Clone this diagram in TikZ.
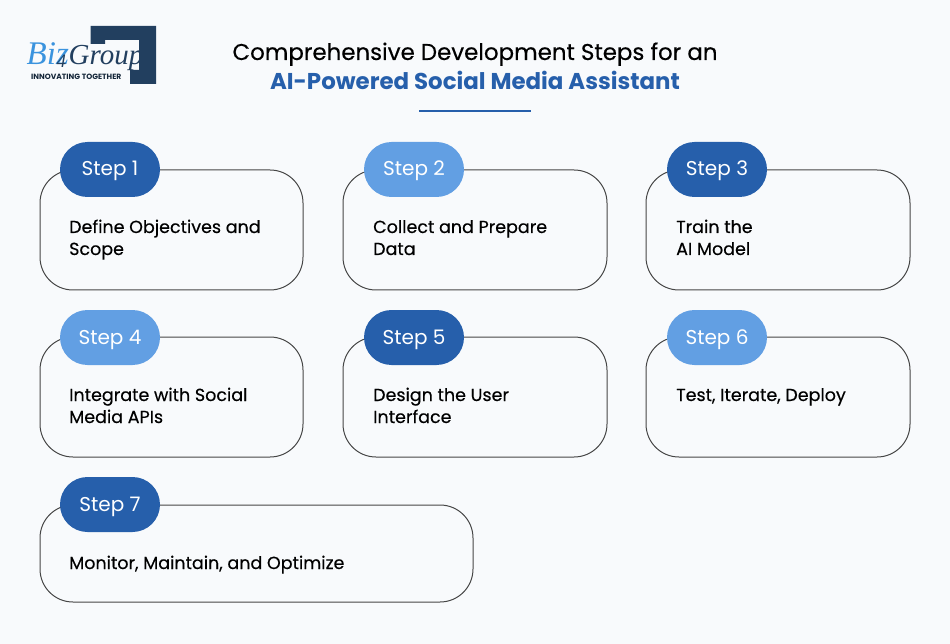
\documentclass[tikz,border=0pt]{standalone}
\usepackage{fontspec}
\setmainfont{Poppins}
\newfontfamily\medfont{Poppins}[FakeBold=0.35]
\newfontfamily\logofont{Liberation Serif}
\definecolor{bgc}{HTML}{F8FAFC}
\definecolor{darkb}{HTML}{265FAB}
\definecolor{lightb}{HTML}{629FE3}
\definecolor{navy}{HTML}{223F5F}
\definecolor{bizb}{HTML}{3A93DE}
\definecolor{edge}{HTML}{464646}
\tikzset{
 x=1pt,y=-1pt,
 card/.style={draw=edge,line width=1pt,fill=bgc,rounded corners=33pt},
 pill/.style={rounded rectangle,minimum width=100pt,minimum height=55pt,inner sep=0pt,text=white,text height=13pt,text depth=0pt,font=\fontsize{20}{24}\selectfont},
 pilldark/.style={pill,fill=darkb},
 pilllight/.style={pill,fill=lightb},
 body/.style={anchor=base west,inner sep=0pt,align=left,text=black,font=\medfont\fontsize{17.5}{22}\selectfont},
}
\usetikzlibrary{shapes.misc}
\begin{document}
\begin{tikzpicture}
\useasboundingbox (0,0) rectangle (950,644);
\fill[bgc] (0,0) rectangle (950,644);
% logo
\fill[navy] (90.7,26) -- (156,26) -- (156,84) -- (130,84) -- (130,70) -- (139,70) -- (139,40) -- (105,40) -- (105,44) -- (90.7,44) -- cycle;
\node[anchor=base west,inner sep=0pt,text=bizb] (biz) at (26.5,65) {\logofont\itshape\fontsize{33}{33}\selectfont Biz};
\node[anchor=base west,inner sep=0pt,text=navy] (four) at (56.5,68) {\logofont\itshape\fontsize{19}{19}\selectfont 4};
\node[anchor=base west,inner sep=0pt,text=navy] (grp) at (68.5,65) {\logofont\itshape\fontsize{29}{29}\selectfont Group};
\node[anchor=base west,inner sep=0pt,text=navy!60!black] (tag) at (31,80) {\fontsize{7.6}{8}\selectfont\bfseries INNOVATING TOGETHER};
% title
\node[text=black,inner sep=0pt,anchor=base] (t1) at (475,60) {\medfont\fontsize{22.9}{26}\selectfont Comprehensive Development Steps for an};
\node[text=darkb,inner sep=0pt,anchor=base] (t2) at (475,89.5) {\bfseries\fontsize{22.9}{26}\selectfont AI-Powered Social Media Assistant};
\coordinate (ula) at (419,111);
\coordinate (ulb) at (531,111);
\draw[darkb,line width=2pt] (ula) -- (ulb);
% cards
\draw[card] (40,170) rectangle (303,290);
\draw[card] (343,170) rectangle (607,290);
\draw[card] (646,170) rectangle (910,290);
\draw[card] (40,337) rectangle (303,457);
\draw[card] (343,337) rectangle (607,457);
\draw[card] (646,337) rectangle (910,457);
\draw[card] (40,505) rectangle (473,602);
% pills
\node[pilldark]  (s1) at (110,169.5) {Step 1};
\node[pilllight] (s2) at (414,169.5) {Step 2};
\node[pilldark]  (s3) at (717,169.5) {Step 3};
\node[pilllight] (s4) at (110,337.5) {Step 4};
\node[pilldark]  (s5) at (414,337.5) {Step 5};
\node[pilllight] (s6) at (717,337.5) {Step 6};
\node[pilldark]  (s7) at (110,504.5) {Step 7};
% text (a two-line node's base is its last line)
\node[body] (b1) at (69,255) {Define Objectives and\\Scope};
\node[body] (b2) at (373,255) {Collect and Prepare\\Data};
\node[body] (b3) at (676,255) {Train the\\AI Model};
\node[body] (b4) at (69,423) {Integrate with Social\\Media APIs};
\node[body] (b5) at (373,423) {Design the User\\Interface};
\node[body] (b6) at (676,401) {Test, Iterate, Deploy};
\node[body] (b7) at (69,569) {Monitor, Maintain, and Optimize};
\end{tikzpicture}
\end{document}
